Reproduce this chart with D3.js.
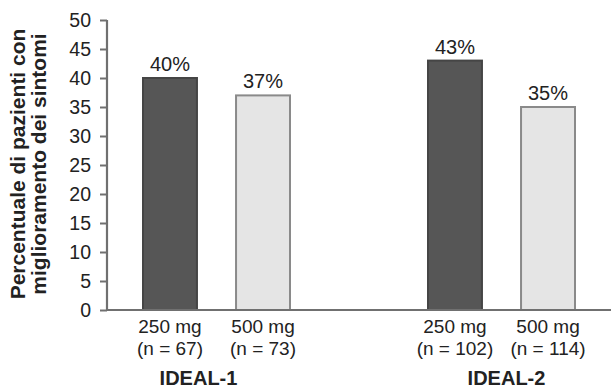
<!DOCTYPE html>
<html>
<head>
<meta charset="utf-8">
<script src="https://cdn.jsdelivr.net/npm/d3@7"></script>
<style>
  html, body { margin: 0; padding: 0; background: #fff; }
  svg { display: block; }
  text { font-family: "Liberation Sans", Arial, Helvetica, sans-serif; fill: #222; }
</style>
</head>
<body>
<svg id="chart" width="611" height="388"></svg>
<script>
// ---- data ----
const groups = ["IDEAL-1", "IDEAL-2"];
const doses = ["250 mg", "500 mg"];
const nValues = [[67, 73], [102, 114]];
const percentValues = [[40, 37], [43, 35]];
const yTicks = [0, 5, 10, 15, 20, 25, 30, 35, 40, 45, 50];
const yTitleLines = ["Percentuale di pazienti con", "miglioramento dei sintomi"];

// ---- layout ----
const W = 611, H = 388;
const axisX = 107, axisY = 310, topY = 20;
const groupLabelShift = [-18, 5];
const barFill = ["#565656", "#e5e5e5"];
const barStroke = ["#454545", "#8a8a8a"];

const svg = d3.select("#chart");

const y = d3.scaleLinear().domain([0, 50]).range([axisY, topY]);
const outer = d3.scaleBand().domain(groups).range([143, 713]);
const inner = d3.scaleBand().domain(doses).range([0, 147]).paddingInner(0.42);

const rows = [];
groups.forEach((g, gi) => doses.forEach((d, di) => rows.push({
  group: g, gi, dose: d, di, value: percentValues[gi][di], n: nValues[gi][di]
})));

// bars
svg.append("g").selectAll("rect").data(rows).join("rect")
  .attr("x", d => outer(d.group) + inner(d.dose))
  .attr("y", d => y(d.value))
  .attr("width", inner.bandwidth())
  .attr("height", d => y(0) - y(d.value))
  .attr("fill", d => barFill[d.di])
  .attr("stroke", d => barStroke[d.di])
  .attr("stroke-width", 2);

// value labels
svg.append("g").selectAll("text").data(rows).join("text")
  .attr("x", d => outer(d.group) + inner(d.dose) + inner.bandwidth() / 2)
  .attr("y", d => y(d.value) - 7)
  .attr("text-anchor", "middle")
  .style("font-size", "20px")
  .text(d => d.value + "%");

// y axis
const yAxis = d3.axisLeft(y).tickValues(yTicks).tickSize(7).tickPadding(9);
const gy = svg.append("g").attr("transform", `translate(${axisX},0)`).call(yAxis);
gy.select(".domain").attr("stroke", "#707070").attr("stroke-width", 2.2)
  .attr("d", `M0,${topY}V${axisY}`);
gy.selectAll(".tick line").attr("stroke", "#707070").attr("stroke-width", 2);
gy.selectAll(".tick text").style("font-size", "19.5px").attr("fill", "#222")
  .style("font-family", '"Liberation Sans", Arial, sans-serif');

// x axis line
svg.append("line")
  .attr("x1", axisX).attr("x2", W)
  .attr("y1", y(0)).attr("y2", y(0))
  .attr("stroke", "#707070").attr("stroke-width", 2.2);

// x tick labels (dose + n)
const lab = svg.append("g");
lab.selectAll("text.dose").data(rows).join("text")
  .attr("class", "dose")
  .attr("x", d => outer(d.group) + inner(d.dose) + inner.bandwidth() / 2)
  .attr("y", 333)
  .attr("text-anchor", "middle")
  .style("font-size", "19px")
  .text(d => d.dose);
lab.selectAll("text.n").data(rows).join("text")
  .attr("class", "n")
  .attr("x", d => outer(d.group) + inner(d.dose) + inner.bandwidth() / 2)
  .attr("y", 355)
  .attr("text-anchor", "middle")
  .style("font-size", "19px")
  .text(d => `(n = ${d.n})`);

// group labels
svg.append("g").selectAll("text").data(groups).join("text")
  .attr("x", (g, i) => outer(g) + 147 / 2 + groupLabelShift[i])
  .attr("y", 385)
  .attr("text-anchor", "middle")
  .style("font-size", "20px")
  .style("font-weight", "bold")
  .text(g => g);

// y title
const yt = svg.append("text")
  .attr("transform", `translate(0,${164}) rotate(-90)`)
  .attr("text-anchor", "middle")
  .style("font-size", "21px")
  .style("font-weight", "bold");
yTitleLines.forEach((t, i) => {
  yt.append("tspan").attr("x", 0).attr("y", 25 + i * 21).text(t);
});
</script>
</body>
</html>
